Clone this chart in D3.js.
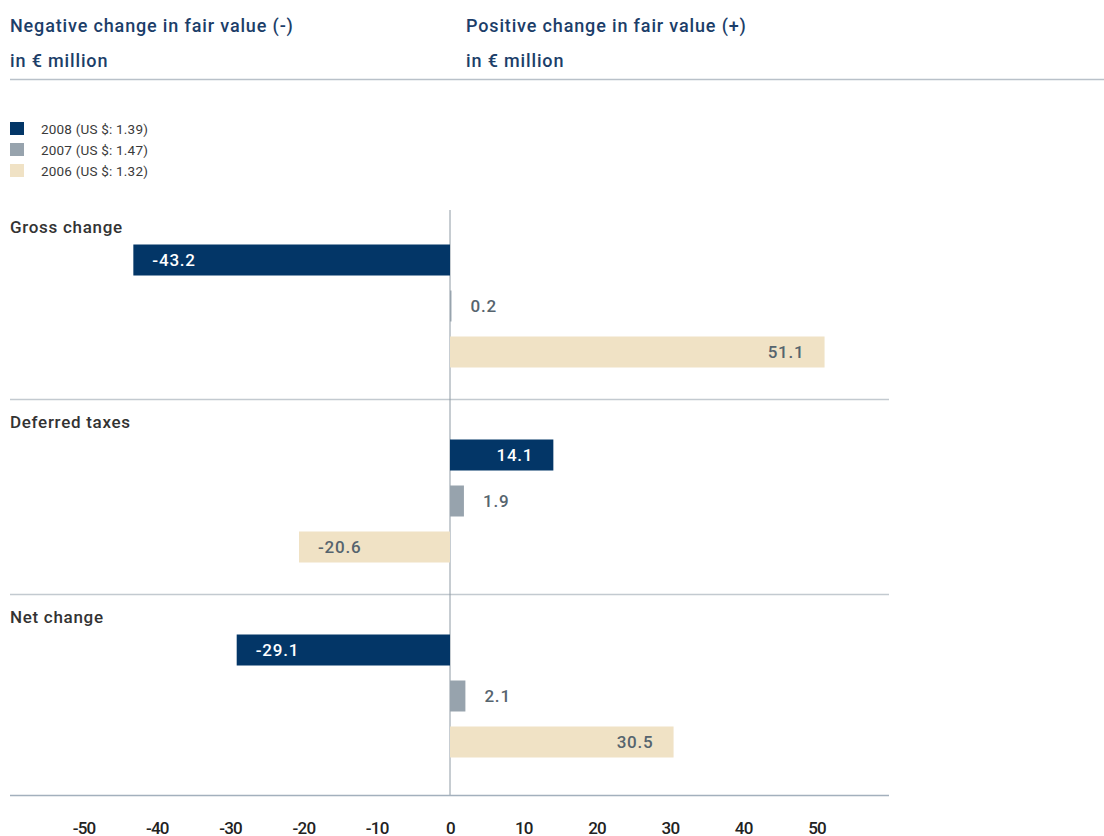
<!DOCTYPE html>
<html>
<head>
<meta charset="utf-8">
<script src="https://cdn.jsdelivr.net/npm/d3@7"></script>
<style>
  html, body { margin: 0; padding: 0; background: #fff; }
  svg { display: block; }
  .head { font-family: Roboto, "Liberation Sans", sans-serif; font-weight: 500; font-size: 18px; letter-spacing: 0.85px; fill: #1c3e69; }
  .legend text { font-family: Roboto, "Liberation Sans", sans-serif; font-size: 13.5px; letter-spacing: 0.2px; fill: #3a3a3a; }
  .cat { font-family: Roboto, "Liberation Sans", sans-serif; font-weight: 500; font-size: 17px; letter-spacing: 0.7px; fill: #333; }
  .val { font-family: Roboto, "Liberation Sans", sans-serif; font-weight: 500; font-size: 17px; letter-spacing: 0.8px; }
  .tick text { font-family: "Liberation Sans Narrow", "Roboto", sans-serif; font-weight: 500; font-size: 17px; letter-spacing: -0.8px; fill: #222; }
</style>
</head>
<body>
<svg id="chart" width="1104" height="836"></svg>
<script>
// Change in fair value of interest-rate hedges, € million
const categories = ["Gross change", "Deferred taxes", "Net change"];
const years = ["2008", "2007", "2006"];
const legendLabels = ["2008 (US $: 1.39)", "2007 (US $: 1.47)", "2006 (US $: 1.32)"];
const values2008 = [-43.2, 14.1, -29.1];
const values2007 = [0.2, 1.9, 2.1];
const values2006 = [51.1, -20.6, 30.5];
const tickValues = [-50, -40, -30, -20, -10, 0, 10, 20, 30, 40, 50];
const headLeft = ["Negative change in fair value (-)", "in € million"];
const headRight = ["Positive change in fair value (+)", "in € million"];

const seriesByYear = { "2008": values2008, "2007": values2007, "2006": values2006 };
const colors = { "2008": "#033667", "2007": "#97a3ad", "2006": "#f0e2c5" };
const labelColors = { "2008": "#ffffff", "2007": "#56646e", "2006": "#56646e" };

const svg = d3.select("#chart");

// Header
const head = svg.append("g");
headLeft.forEach((t, i) => head.append("text").attr("class", "head").attr("x", 10).attr("y", 31.5 + i * 35).text(t));
headRight.forEach((t, i) => head.append("text").attr("class", "head").attr("x", 466).attr("y", 31.5 + i * 35).text(t));
head.append("line").attr("x1", 10).attr("x2", 1104).attr("y1", 79.5).attr("y2", 79.5)
  .attr("stroke", "#b9c1c9").attr("stroke-width", 1.3);

// Legend
const legend = svg.append("g").attr("class", "legend");
years.forEach((y, i) => {
  const g = legend.append("g").attr("transform", `translate(10, ${122 + i * 21})`);
  g.append("rect").attr("width", 14).attr("height", 13).attr("fill", colors[y]);
  g.append("text").attr("x", 31).attr("y", 12).text(legendLabels[i]);
});

// Scales
const x = d3.scaleLinear().domain([-50, 50]).range([83.5, 816.5]);
const yCat = d3.scaleBand().domain(categories).range([205, 790]);
const yYear = d3.scaleBand().domain(years).range([39.5, 162.5]).paddingInner(0.326).paddingOuter(0);

const plot = svg.append("g");

// Category separators
categories.forEach((c, i) => {
  if (i > 0) {
    plot.append("line").attr("x1", 10).attr("x2", 889)
      .attr("y1", Math.round(yCat(c)) - 0.5).attr("y2", Math.round(yCat(c)) - 0.5)
      .attr("stroke", "#c3cad0").attr("stroke-width", 1.4);
  }
});

// Zero line
plot.append("line").attr("x1", x(0)).attr("x2", x(0)).attr("y1", 210).attr("y2", 795)
  .attr("stroke", "#8e9aa4").attr("stroke-width", 1);

// Category labels and bars
categories.forEach((c, ci) => {
  const g = plot.append("g").attr("transform", `translate(0, ${yCat(c)})`);
  g.append("text").attr("class", "cat").attr("x", 10).attr("y", 27.5).text(c);

  years.forEach(yr => {
    const v = seriesByYear[yr][ci];
    const x0 = x(Math.min(0, v)), x1 = x(Math.max(0, v));
    const top = yYear(yr), h = yYear.bandwidth();
    g.append("rect").attr("x", x0).attr("y", top).attr("width", Math.max(1, x1 - x0)).attr("height", h)
      .attr("fill", colors[yr]);

    const label = g.append("text").attr("class", "val").attr("y", top + h / 2).attr("dy", "0.36em")
      .text(d3.format(".1f")(v).replace("−", "-"));
    const wide = Math.abs(x(v) - x(0)) > 60;
    if (!wide) {
      label.attr("x", x(v) + 19).attr("text-anchor", "start").attr("fill", "#56646e");
    } else if (v < 0) {
      label.attr("x", x(v) + 19).attr("text-anchor", "start").attr("fill", labelColors[yr]);
    } else {
      label.attr("x", x(v) - 20).attr("text-anchor", "end").attr("fill", labelColors[yr]);
    }
  });
});

// Bottom axis
plot.append("line").attr("x1", 10).attr("x2", 889).attr("y1", 795.5).attr("y2", 795.5)
  .attr("stroke", "#a3b0bd").attr("stroke-width", 1.4);
const axis = d3.axisBottom(x).tickValues(tickValues).tickSize(0).tickPadding(0)
  .tickFormat(d => String(d));
const ax = svg.append("g").attr("transform", "translate(0, 796)").call(axis);
ax.select(".domain").remove();
ax.selectAll(".tick text").attr("dy", null).attr("y", 37.5);
</script>
</body>
</html>
